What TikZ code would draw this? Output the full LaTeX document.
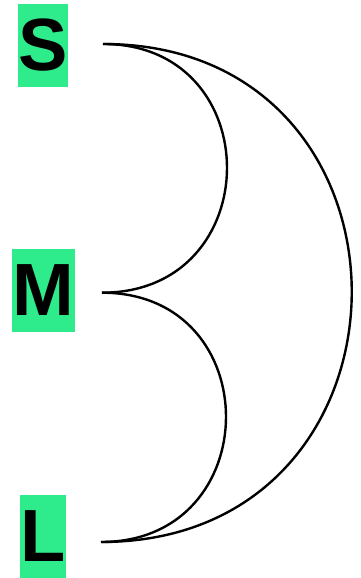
\documentclass[tikz,border=0pt]{standalone}
\usepackage{fontspec}
\newfontfamily\sizefont{Liberation Sans}
\usepackage{tikz}
\usetikzlibrary{positioning,calc}
\definecolor{boxgreen}{HTML}{2EEB8C}
\begin{document}
\begin{tikzpicture}[x=1pt,y=1pt,
  size/.style={fill=boxgreen,inner sep=0pt,minimum height=83pt,font=\sizefont\bfseries\fontsize{74}{74}\selectfont},
  link/.style={line width=2.4pt}]
\useasboundingbox (0,0) rectangle (361,578);
\node[size,minimum width=50pt] (s) at (43,532.5) {S};
\node[size,minimum width=63pt] (m) at (43.5,287.5) {M};
\node[size,minimum width=46pt] (l) at (43,41.5) {L};
\coordinate (sp) at ([shift={(60pt,1.5pt)}]s.center);
\coordinate (mp) at ([shift={(58.5pt,-2.2pt)}]m.center);
\coordinate (lp) at ([shift={(58pt,-5.5pt)}]l.center);
\draw[link] (sp) .. controls +(166,0) and +(166,0) .. (mp);
\draw[link] (mp) .. controls +(166,0) and +(166,0) .. (lp);
\draw[link] (sp) .. controls +(333,0) and +(333,0) .. (lp);
\end{tikzpicture}
\end{document}
